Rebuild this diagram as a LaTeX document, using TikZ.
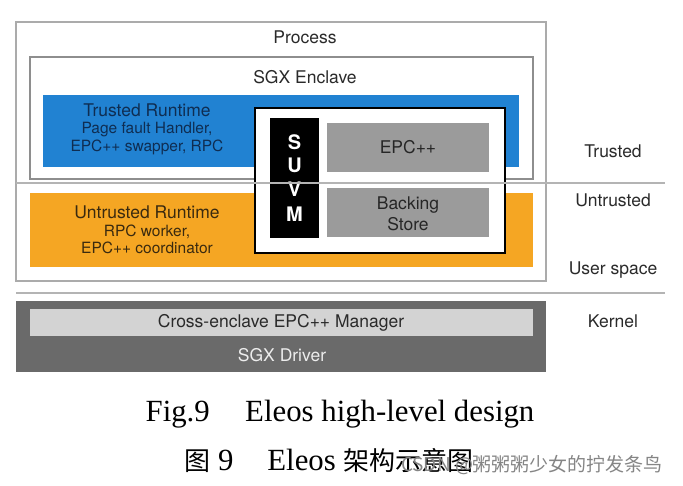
\documentclass[tikz,border=0pt]{standalone}
\usepackage{fontspec}
\setmainfont{Liberation Serif}
\setsansfont{TeX Gyre Heros}
\newfontfamily\cjk{Noto Sans CJK SC}
\usetikzlibrary{positioning}

\definecolor{framegrey}{HTML}{ABABAB}
\definecolor{enclgrey}{HTML}{8E8E8E}
\definecolor{linegrey}{HTML}{B4B4B4}
\definecolor{trustblue}{HTML}{2182D2}
\definecolor{trusttext}{HTML}{0F2D52}
\definecolor{untrustorange}{HTML}{F5A623}
\definecolor{untrusttext}{HTML}{3A2A0F}
\definecolor{memgrey}{HTML}{9B9B9B}
\definecolor{kernelgrey}{HTML}{6A6A6A}
\definecolor{bargrey}{HTML}{D3D3D3}
\definecolor{labeltext}{HTML}{2A2A2A}

\tikzset{
  layer/.style={inner sep=0pt, outer sep=0pt},
  lbl/.style={font=\sffamily\fontsize{17.5}{19}\selectfont, text=labeltext, inner sep=0pt},
  sublbl/.style={font=\sffamily\fontsize{15.5}{17.5}\selectfont, inner sep=0pt, align=center},
  capt/.style={font=\fontsize{30.8}{34}\selectfont, inner sep=0pt, anchor=base}
}

\begin{document}
\begin{tikzpicture}[x=1pt,y=-1pt]
\useasboundingbox[fill=white] (0,0) rectangle (683,485);

% user space
\node[layer, draw=framegrey, line width=1.2pt, minimum width=530pt, minimum height=259pt] (process) at (281,151.5) {};
\node[lbl] (processlbl) at (305,37) {Process};
\node[layer, draw=enclgrey, line width=1.2pt, minimum width=503pt, minimum height=122pt] (enclave) at (281.5,118) {};
\node[lbl] (enclavelbl) at (305,77) {SGX Enclave};
\node[layer, fill=trustblue, minimum width=476pt, minimum height=72pt] (trusted) at (281,131) {};
\node[layer, fill=untrustorange, minimum width=503pt, minimum height=74pt] (untrusted) at (281.5,230) {};

\node[sublbl, text=trusttext] (trustedlbl) at (147,129)
  {{\fontsize{17.5}{19}\selectfont Trusted Runtime}\\Page fault Handler,\\EPC++ swapper, RPC};
\node[sublbl, text=untrusttext] (untrustedlbl) at (147,230)
  {{\fontsize{17.5}{19}\selectfont Untrusted Runtime}\\RPC worker,\\EPC++ coordinator};

% SUVM
\node[layer, draw=black, fill=white, line width=2.5pt, minimum width=250pt, minimum height=145pt] (suvm) at (380,180.5) {};
\node[layer, fill=black, minimum width=49pt, minimum height=120pt] (suvmbar) at (294.5,178) {};
\foreach \ch/\yy in {S/142,U/165,V/189,M/214}
  \node[font=\sffamily\bfseries\fontsize{20}{22}\selectfont, text=white, inner sep=0pt] (suvm\ch) at (294.5,\yy) {\ch};
\node[layer, fill=memgrey, minimum width=162pt, minimum height=49pt] (epc) at (408,147.5) {};
\node[lbl, text=black!85] (epclbl) at (408,147.5) {EPC++};
\node[layer, fill=memgrey, minimum width=162pt, minimum height=49pt] (backing) at (408,212.5) {};
\node[lbl, text=black!85, align=center, font=\sffamily\fontsize{17.5}{21}\selectfont] (backinglbl) at (408,214) {Backing\\Store};

% separators
\coordinate (sepAl) at (16,183);
\coordinate (sepAr) at (665,183);
\coordinate (sepBl) at (16,293);
\coordinate (sepBr) at (665,293);
\draw[linegrey, line width=1.3pt] (sepAl) -- (sepAr);
\draw[linegrey, line width=1.3pt] (sepBl) -- (sepBr);

\node[lbl] (trustedside) at (613,151) {Trusted};
\node[lbl] (untrustedside) at (613,200) {Untrusted};
\node[lbl] (userside) at (613,270) {User space};
\node[lbl] (kernelside) at (613,321) {Kernel};

% kernel
\node[layer, fill=kernelgrey, minimum width=530pt, minimum height=71pt] (kernel) at (281,336.5) {};
\node[layer, fill=bargrey, minimum width=503pt, minimum height=27pt] (manager) at (281.5,322.5) {};
\node[lbl] (managerlbl) at (281,323) {Cross-enclave EPC++ Manager};
\node[lbl, text=white!93!black] (driverlbl) at (282,355) {SGX Driver};

% caption
\node[capt] (captEN) at (340,421.7) {Fig.9\hspace{1.15em}Eleos high-level design};
\node[capt] (captCN) at (329,470) {{\cjk\fontsize{26}{30}\selectfont 图} 9\hspace{1.1em}Eleos {\cjk\fontsize{26}{30}\selectfont 架构示意图}};
\node[font=\cjk\fontsize{19}{21}\selectfont, text=black!48, inner sep=0pt] (watermark) at (532,465) {CSDN @粥粥粥少女的拧发条鸟};
\end{tikzpicture}
\end{document}
